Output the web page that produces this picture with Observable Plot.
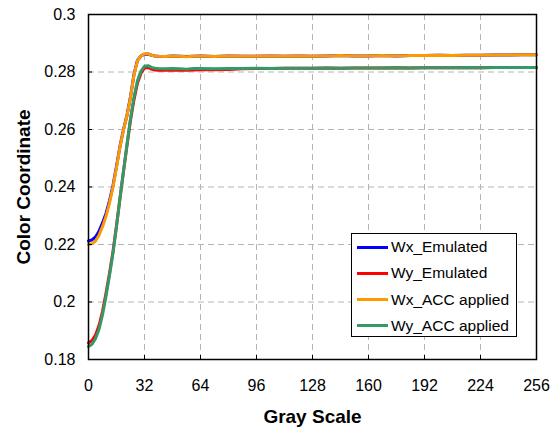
<!DOCTYPE html>
<html>
<head>
<meta charset="utf-8">
<script src="https://cdn.jsdelivr.net/npm/d3@7"></script>
<script src="https://cdn.jsdelivr.net/npm/@observablehq/plot@0.6"></script>
<style>
  html, body { margin: 0; padding: 0; background: #fff; }
  #wrap { position: relative; width: 551px; height: 429px; }
  #legend { position: absolute; left: 351px; top: 233px; width: 164px; height: 102px;
    border: 1px solid #000; background: #fff; font-family: "Liberation Sans", Arial, sans-serif; font-size: 15.5px; }
  .row { position: absolute; left: 5px; height: 20px; display: flex; align-items: center; }
  .sw { width: 31px; height: 3px; margin-right: 3px; }
</style>
</head>
<body>
<div id="wrap"></div>
<script>
const gray = [0,2,4,6,8,10,12,14,16,18,20,22,24,26,28,30,32,34,36,38,40,44,48,52,56,60,64,72,80,88,96,104,112,120,128,136,144,152,160,168,176,184,192,200,208,216,224,232,240,248,256];

const wxEmulated = [.2212,.2216,.2226,.2246,.2275,.2308,.2352,.2405,.2472,.2542,.2600,.2650,.2714,.2792,.2841,.2856,.2862,.2863,.2858,.2856,.2855,.2854,.2856,.2855,.2854,.2855,.2856,.2854,.2856,.2855,.2855,.2856,.2855,.2856,.2855,.2856,.2857,.2856,.2856,.2857,.2856,.2857,.2857,.2858,.2857,.2858,.2858,.2859,.2859,.2860,.2860];
const wyEmulated = [.1858,.1866,.1885,.1918,.1967,.2030,.2100,.2176,.2266,.2362,.2455,.2545,.2632,.2704,.2762,.2796,.2814,.2816,.2810,.2807,.2806,.2806,.2807,.2806,.2806,.2807,.2808,.2808,.2809,.2811,.2812,.2812,.2813,.2813,.2813,.2814,.2813,.2814,.2814,.2814,.2815,.2814,.2815,.2815,.2815,.2816,.2815,.2816,.2816,.2816,.2816];
const wxACC = [.2200,.2203,.2212,.2232,.2262,.2298,.2345,.2400,.2468,.2540,.2598,.2648,.2712,.2790,.2840,.2856,.2863,.2864,.2858,.2856,.2855,.2854,.2856,.2855,.2853,.2855,.2856,.2854,.2856,.2855,.2855,.2856,.2855,.2856,.2855,.2856,.2857,.2856,.2856,.2857,.2856,.2857,.2857,.2858,.2857,.2858,.2858,.2859,.2859,.2860,.2860];
const wyACC = [.1845,.1853,.1872,.1905,.1955,.2020,.2092,.2170,.2262,.2360,.2455,.2548,.2638,.2712,.2770,.2803,.2820,.2822,.2816,.2813,.2812,.2811,.2812,.2811,.2810,.2812,.2812,.2811,.2812,.2812,.2813,.2812,.2813,.2813,.2813,.2814,.2813,.2814,.2814,.2814,.2815,.2814,.2815,.2815,.2815,.2816,.2815,.2816,.2816,.2816,.2816];

const seriesNames = ["Wx_Emulated","Wy_Emulated","Wx_ACC applied","Wy_ACC applied"];
const seriesColors = ["#0000ff","#ff0000","#ff9900","#339966"];
const seriesValues = [wxEmulated, wyEmulated, wxACC, wyACC];

const xTicks = [0,32,64,96,128,160,192,224,256];
const yTicks = [0.18,0.20,0.22,0.24,0.26,0.28,0.30];
const yFmt = d => String(+d.toFixed(2));

const rows = [];
seriesValues.forEach((vals, si) => vals.forEach((v, i) => rows.push({s: seriesNames[si], x: gray[i], y: v})));

const font = "'Liberation Sans', Arial, sans-serif";
const lineMarks = seriesNames.map((n, i) =>
  Plot.line(rows.filter(r => r.s === n), {x: "x", y: "y", stroke: seriesColors[i], strokeWidth: 3, curve: "linear"}));

const chart = Plot.plot({
  width: 551, height: 429,
  marginLeft: 88, marginRight: 15, marginTop: 14, marginBottom: 70,
  style: {fontFamily: font, fontSize: "16px", color: "#000", background: "#fff", overflow: "visible"},
  x: {domain: [0, 256], label: null},
  y: {domain: [0.18, 0.30], label: null},
  marks: [
    Plot.gridX(xTicks.slice(1, -1), {stroke: "#b4b4b4", strokeOpacity: 1, strokeDasharray: "6,4"}),
    Plot.gridY(yTicks.slice(1, -1), {stroke: "#b4b4b4", strokeOpacity: 1, strokeDasharray: "6,4"}),
    ...lineMarks,
    Plot.frame({stroke: "#000", strokeWidth: 1.5}),
    Plot.axisX(xTicks, {tickSize: 0, tickPadding: 20, tickFormat: d => String(d), fontSize: 16}),
    Plot.axisX(xTicks, {tickSize: -4, tickFormat: () => "", stroke: "#000"}),
    Plot.axisY(yTicks, {tickSize: 0, tickPadding: 13, tickFormat: yFmt, fontSize: 16}),
    Plot.axisY(yTicks, {tickSize: -4, tickFormat: () => "", stroke: "#000"}),
    Plot.text(["Gray Scale"], {frameAnchor: "bottom", dy: 57, text: d => d, fontSize: 19, fontWeight: "bold", lineAnchor: "middle", textAnchor: "middle"}),
    Plot.text(["Color Coordinate"], {frameAnchor: "left", dx: -65, text: d => d, fontSize: 19, fontWeight: "bold", rotate: -90, textAnchor: "middle", lineAnchor: "middle"})
  ]
});
const wrap = document.getElementById("wrap");
wrap.appendChild(chart);

const legend = document.createElement("div");
legend.id = "legend";
seriesNames.forEach((n, i) => {
  const r = document.createElement("div");
  r.className = "row";
  r.style.top = (3 + i * 26.3) + "px";
  r.innerHTML = `<div class="sw" style="background:${seriesColors[i]}"></div><span>${n}</span>`;
  legend.appendChild(r);
});
wrap.appendChild(legend);
</script>
</body>
</html>
